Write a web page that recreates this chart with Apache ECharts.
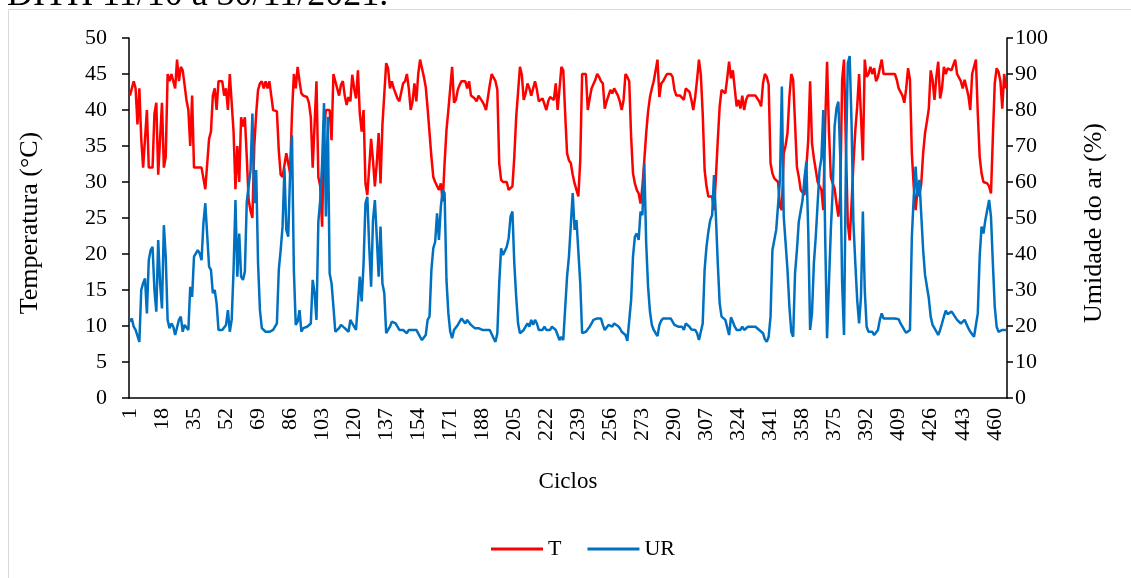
<!DOCTYPE html>
<html>
<head>
<meta charset="utf-8">
<title>T e UR por ciclo</title>
<script src="https://cdn.jsdelivr.net/npm/echarts@6/dist/echarts.min.js"></script>
<style>
  html, body { margin: 0; padding: 0; background: #ffffff; }
  #chart { width: 1131px; height: 578px; }
</style>
</head>
<body>
<div id="chart"></div>
<script>
// Cycle count on the horizontal axis (labels shown every 17 cycles)
const cycleCount = 466;
const categories = Array.from({ length: cycleCount }, (_, i) => String(i + 1));

// Left axis ticks (°C) and right axis ticks (%)
const tempTicks = [0, 5, 10, 15, 20, 25, 30, 35, 40, 45, 50];
const humTicks = [0, 10, 20, 30, 40, 50, 60, 70, 80, 90, 100];

// Air temperature per cycle (°C)
const T = [
  42, 42, 44, 43, 38, 43, 36, 32, 32, 40,
  32, 32, 32, 39.5, 41, 31, 36, 41, 32, 33.5,
  45, 44, 45, 44, 43, 47, 44, 46, 45.5, 43.5,
  41.4, 40, 35, 42, 32, 32, 32, 32, 32, 30.5,
  29, 29, 36, 37, 42, 43, 40, 44, 44, 44,
  42, 43, 40, 45, 41, 37, 29, 35, 30, 39,
  37.7, 39, 33.5, 27.5, 26, 25, 35, 39.5, 42.8, 43.7,
  44, 43, 44, 43, 44, 42, 40, 40, 39.8, 34.4,
  31, 30.7, 30.7, 34, 34, 31.2, 39.5, 45, 43, 46,
  44, 42.3, 42, 42, 41.8, 41, 39, 32, 32, 44,
  30.7, 29.4, 23.8, 37.2, 40, 40, 40, 35.8, 45, 44,
  44, 42, 43.5, 44, 42, 40.7, 41.8, 41.2, 44.9, 43,
  41.6, 45.5, 39.5, 37, 40, 29.8, 28.2, 28, 36, 33,
  29.4, 32.6, 36.8, 29.8, 37.9, 37.9, 46.5, 45.8, 43, 44,
  43, 42.8, 41.6, 41.2, 41.2, 43.7, 44, 45, 43, 40,
  41.2, 43.7, 41.2, 45, 47, 45.8, 44.6, 43.2, 40.2, 40,
  33.5, 30.7, 30, 30, 28.9, 29.8, 27.3, 32.6, 37.2, 40,
  43, 46, 41, 41.4, 42.8, 43.5, 44, 44, 44, 43,
  44, 42, 41.8, 41.6, 41.2, 42, 41.8, 41.2, 40.7, 40,
  40, 43.5, 45, 45, 44, 42.8, 32.6, 30.3, 30, 29.8,
  30, 28.9, 28.9, 29.4, 33.5, 39, 42.5, 46, 44.9, 41.4,
  42.3, 43.7, 43, 42, 41.8, 44, 42.8, 41.2, 41.2, 41.6,
  41.4, 40, 41.2, 41.8, 41.8, 41.4, 43.7, 40, 43, 46,
  45.5, 39.5, 34, 33, 32.6, 31, 29.8, 28.9, 28, 33,
  45, 45, 45, 40, 41.6, 43, 43, 44.2, 45, 44.6,
  44, 43.7, 40.2, 41.2, 42, 42.8, 42.3, 43, 43, 42,
  41.2, 40, 41.4, 45, 44.6, 44, 36.3, 31.2, 29.8, 28.9,
  28.4, 27, 29.4, 33, 36.8, 39.8, 41.8, 43, 44, 44.2,
  47, 41.8, 43.7, 44, 44.2, 45, 45, 45, 44.6, 42.8,
  42, 42, 42, 41.8, 41.4, 43, 43, 42.5, 41.4, 40,
  41.8, 44.2, 47, 44.9, 39.5, 31.7, 29.4, 28, 28, 28,
  26.1, 30.7, 35.8, 40.5, 42.8, 42.8, 42.3, 44.4, 46.7, 44.4,
  45.5, 43, 40.5, 41.4, 40.2, 42, 40, 41.4, 42, 42,
  42, 42, 42, 41.6, 41.2, 40.5, 43.7, 45, 44.6, 43.5,
  32.6, 31.2, 30.5, 30.3, 30, 26.6, 26.1, 34, 35.1, 36.8,
  41.8, 45, 44.2, 44, 32.1, 30.7, 28.9, 28.9, 28.2, 28,
  35.8, 44, 35.4, 33.3, 31.7, 30, 29.8, 28.9, 26.1, 38.1,
  46.7, 37.2, 30.7, 29.8, 29.1, 27, 25.2, 28, 44.2, 47,
  34.9, 24.3, 21.9, 27, 32.6, 37.2, 40.5, 45, 39.1, 33,
  47, 44.6, 45, 46, 45, 45.8, 44, 44.6, 45.8, 47,
  45, 45, 45, 45, 45, 45, 45, 44.2, 43, 42.8,
  42, 41, 43, 45.8, 44.2, 34, 29.4, 26.1, 28.9, 28.2,
  29.8, 34, 36.8, 38.4, 40.2, 45.5, 44.2, 41.4, 44.6, 46.7,
  41.6, 43, 46, 45, 45.8, 46, 45.5, 45.3, 47, 45,
  44.9, 44, 43, 44.2, 44.4, 42, 40, 45, 46, 47,
  39.5, 33.5, 31.2, 30, 29.8, 29.8, 29.4, 28.4, 36.3, 43.7,
  45.8, 45.3, 44, 40.2, 45, 43
];

// Relative air humidity per cycle (%)
const UR = [
  21.2, 22.1, 19.8, 18.9, 18.4, 15.6, 30, 31.9, 33.2, 23.5,
  38.3, 41.1, 42, 30, 24, 43.9, 31.9, 24.9, 48, 39.3,
  21.7, 19.4, 20.7, 19.8, 17.5, 17, 21.7, 22.6, 18.4, 20.3,
  20.3, 18.9, 30.9, 28.1, 39.3, 40.2, 41.1, 40.2, 38.3, 48.5,
  54.1, 54.1, 36.5, 35.6, 29.1, 30, 26.3, 18.9, 18.9, 18.9,
  19.4, 20.3, 24.4, 18.4, 21.7, 35.6, 55, 33.7, 45.7, 33.7,
  32.8, 35.1, 54.5, 55, 63.3, 79, 54.1, 63.3, 37.4, 24.4,
  19.4, 19.4, 18.4, 18.4, 18.4, 18.9, 18.9, 18.9, 20.7, 35.6,
  41.1, 47.6, 63.8, 46.7, 44.8, 62.4, 73, 35.6, 20.3, 21.2,
  24.4, 18.4, 19.4, 18.9, 19.8, 19.4, 20.7, 32.8, 29.1, 21.7,
  49, 55, 65.2, 81.9, 50.4, 78.1, 34.6, 31.9, 25.4, 18.4,
  18.9, 19.4, 20.3, 19.8, 19.4, 19.8, 18.4, 21.7, 20.7, 19.8,
  18.9, 18.9, 33.7, 26.8, 37.4, 54.1, 55.9, 42, 30.9, 49.4,
  55, 44.8, 33.7, 47.6, 31.9, 29.1, 18, 17.5, 19.8, 21.2,
  20.7, 20.7, 19.8, 18.9, 18.9, 18.9, 18.4, 18, 18.9, 18.9,
  18.9, 18.9, 18.9, 18.4, 17, 16.1, 15.6, 17.5, 21.7, 22.6,
  35.6, 41.6, 43.4, 51.3, 43.9, 53.1, 57.8, 56.9, 32.8, 23.5,
  18.4, 16.6, 18.9, 19.4, 20.3, 21.2, 22.1, 21.7, 20.7, 21.7,
  21.7, 20.3, 19.8, 19.4, 19.8, 19.4, 19.8, 18.9, 18.9, 18.9,
  18.9, 18.9, 18.4, 16.6, 15.6, 18, 31.9, 41.6, 39.7, 39.7,
  42, 44.4, 50.4, 51.8, 37.4, 28.1, 20.7, 18, 18.4, 18.9,
  19.4, 20.7, 19.8, 21.7, 20.3, 21.7, 20.7, 18.9, 18.9, 18.9,
  19.8, 18.9, 18.9, 18.9, 19.8, 19.4, 18.9, 17.5, 16.1, 17,
  16.1, 16.1, 33.7, 39.3, 38.8, 56.9, 46.7, 49.4, 49, 31.9,
  18, 18, 18.4, 18.9, 19.8, 20.7, 21.7, 22.1, 22.1, 22.1,
  22.1, 20.3, 18.9, 19.4, 20.3, 20.3, 19.8, 20.7, 20.7, 20,
  19.4, 18.4, 18.4, 17.5, 15.9, 15.6, 27.2, 39.3, 44.8, 45.7,
  43.9, 51.8, 50.8, 65.2, 43, 30.9, 24, 20.3, 18.9, 18,
  17.2, 20.3, 21.5, 22.1, 22.1, 22.1, 22.1, 22.1, 21.2, 20.3,
  19.8, 19.8, 19.8, 19.8, 18.9, 20.7, 20.7, 19.8, 19, 18.9,
  18.9, 18, 16.1, 15.6, 20.7, 35.6, 42, 46.2, 49.4, 50.8,
  61.9, 50.4, 37.4, 26.3, 22.6, 22.4, 21.7, 21.7, 17.5, 22.4,
  21.2, 19.8, 18.9, 19.4, 18.9, 19.8, 18.9, 19.4, 19.8, 19.8,
  19.8, 19.8, 19.8, 19.8, 18.9, 18.7, 18, 16.3, 15.6, 17,
  22.6, 41.1, 43.9, 46.7, 46.7, 60.6, 86.5, 50.4, 43, 35.6,
  25.4, 18.4, 17, 34.6, 41.1, 49, 49.4, 55, 61, 65.6,
  46.7, 18.9, 23.5, 37.4, 44.8, 44.8, 63.3, 66.6, 80, 44.8,
  16.6, 31.9, 46.7, 57.8, 75.4, 80.5, 82.3, 67, 31.9, 17.5,
  65.2, 93, 95, 76.3, 48.5, 37.4, 27.2, 20.7, 28.1, 51.8,
  30, 19.8, 18.4, 18, 18.4, 17.5, 17.5, 18.9, 21.7, 23.5,
  22.1, 22.1, 22.1, 22.1, 22.1, 22.1, 22.1, 22.1, 21.9, 20.7,
  20.6, 18.9, 18.1, 18.4, 18.9, 44.8, 55.9, 64.3, 55.9, 60.6,
  60.1, 41.1, 34.2, 33.7, 27.7, 22.6, 20.3, 19.4, 19.8, 17.5,
  18.9, 20.7, 22.6, 24.3, 23.3, 23.5, 24, 23.3, 22.8, 21.7,
  21.7, 20.7, 21.2, 21.7, 21.7, 19.4, 18.4, 18, 17, 16.6,
  23.5, 39.3, 47.6, 45.7, 49.4, 49, 55, 50.4, 37.4, 25.4,
  19.8, 18.4, 18.7, 18.9, 18.9, 18.9
];

const serif = 'Liberation Serif';
const black = '#000000';

const chart = echarts.init(document.getElementById('chart'), null, { renderer: 'canvas' });

chart.setOption({
  animation: false,
  backgroundColor: '#ffffff',
  graphic: [
    {
      type: 'rect',
      silent: true,
      shape: { x: 8.5, y: 9.5, width: 1140, height: 600 },
      style: { fill: 'none', stroke: '#d9d9d9', lineWidth: 1 }
    },
    {
      type: 'text',
      silent: true,
      x: 7,
      y: 14,
      style: {
        text: 'DITH 11/10 a 30/11/2021.',
        font: '36px "Liberation Serif"',
        fill: black,
        verticalAlign: 'bottom'
      }
    }
  ],
  grid: { left: 129, right: 124, top: 38, bottom: 180, containLabel: false },
  legend: {
    data: ['T', 'UR'],
    left: 486,
    top: 533,
    icon: 'rect',
    itemWidth: 52,
    itemHeight: 3,
    itemGap: 26,
    textStyle: { fontFamily: serif, fontSize: 22, color: black }
  },
  xAxis: {
    type: 'category',
    data: categories,
    boundaryGap: true,
    name: 'Ciclos',
    nameLocation: 'middle',
    nameGap: 72,
    nameTextStyle: { fontFamily: serif, fontSize: 23, color: black },
    axisLine: { show: true, lineStyle: { color: black, width: 1.5 } },
    axisTick: { show: false },
    axisLabel: {
      interval: 16,
      rotate: 90,
      margin: 10,
      fontFamily: serif,
      fontSize: 22,
      color: black
    },
    splitLine: { show: false }
  },
  yAxis: [
    {
      type: 'value',
      min: tempTicks[0],
      max: tempTicks[tempTicks.length - 1],
      interval: tempTicks[1] - tempTicks[0],
      name: 'Temperatura (°C)',
      nameLocation: 'middle',
      nameGap: 86,
      nameTextStyle: { fontFamily: serif, fontSize: 26, color: black, padding: [0, 10, 0, 0] },
      axisLine: { show: true, lineStyle: { color: black, width: 1.5 } },
      axisTick: { show: true, length: 7, lineStyle: { color: black, width: 1.5 } },
      axisLabel: { margin: 22, fontFamily: serif, fontSize: 22, color: black },
      splitLine: { show: false }
    },
    {
      type: 'value',
      position: 'right',
      min: humTicks[0],
      max: humTicks[humTicks.length - 1],
      interval: humTicks[1] - humTicks[0],
      name: 'Umidade do ar (%)',
      nameLocation: 'middle',
      nameGap: 74,
      nameRotate: 90,
      nameTextStyle: { fontFamily: serif, fontSize: 26, color: black, padding: [0, 10, 0, 0] },
      axisLine: { show: true, lineStyle: { color: black, width: 1.5 } },
      axisTick: { show: true, length: 6, lineStyle: { color: black, width: 1.5 } },
      axisLabel: { margin: 8, fontFamily: serif, fontSize: 22, color: black },
      splitLine: { show: false }
    }
  ],
  series: [
    {
      name: 'T',
      type: 'line',
      yAxisIndex: 0,
      data: T,
      symbol: 'none',
      showSymbol: false,
      sampling: null,
      color: '#ff0000',
      lineStyle: { color: '#ff0000', width: 2.5 }
    },
    {
      name: 'UR',
      type: 'line',
      yAxisIndex: 1,
      data: UR,
      symbol: 'none',
      showSymbol: false,
      sampling: null,
      color: '#0070c0',
      lineStyle: { color: '#0070c0', width: 2.5 }
    }
  ]
});
</script>
</body>
</html>
